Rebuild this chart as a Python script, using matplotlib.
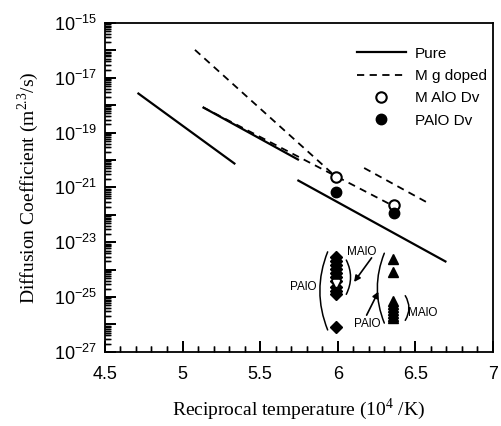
import matplotlib
matplotlib.use("Agg")
import matplotlib.pyplot as plt
import numpy as np
from matplotlib.ticker import FixedLocator, LogLocator, FuncFormatter, MultipleLocator
from matplotlib.lines import Line2D
from matplotlib.collections import LineCollection

plt.rcParams['mathtext.fontset'] = 'custom'
plt.rcParams['mathtext.sf'] = 'Liberation Sans'
plt.rcParams['mathtext.rm'] = 'Liberation Serif'
plt.rcParams['font.family'] = 'Liberation Sans'

# ---- data (x: 10^4/K, y: log10 D) ----
pure_1_x = [4.71, 5.34]
pure_1_y = [-17.55, -20.15]
pure_2_x = [5.13, 5.75]
pure_2_y = [-18.07, -20.00]
pure_3_x = [5.74, 6.70]
pure_3_y = [-20.73, -23.72]

mg_1_x = [5.08, 5.99]
mg_1_y = [-15.98, -20.62]
mg_2_x = [5.13, 6.37]
mg_2_y = [-18.07, -21.71]
mg_3_x = [6.17, 6.57]
mg_3_y = [-20.29, -21.53]

maio_dv_x = [5.99, 6.365]
maio_dv_y = [-20.62, -21.64]
paio_dv_x = [5.99, 6.365]
paio_dv_y = [-21.17, -21.93]

left_col_x = 5.99
left_filled_y = [-23.53, -23.68, -23.83, -23.97, -24.12, -24.26, -24.41, -24.63, -24.77, -24.88]
left_open_y = [-24.50]
left_single_y = [-26.09]

right_col_x = 6.355
right_tri_top_y = [-23.61, -24.08]
right_tri_blob_y = [-25.14, -25.25, -25.36, -25.47, -25.58, -25.69, -25.76]

xticks = [4.5, 5, 5.5, 6, 6.5, 7]
xtick_labels = ['4.5', '5', '5.5', '6', '6.5', '7']
ydecades = list(range(-27, -14))

fig = plt.figure(figsize=(5.02, 4.26), dpi=100)
ax = fig.add_axes([0.209, 0.174, 0.773, 0.772])
ax.set_yscale('log')
ax.set_xlim(4.5, 7)
ax.set_ylim(1e-27, 1e-15)

# axes styling
ax.xaxis.set_major_locator(FixedLocator(xticks))
ax.set_xticklabels(xtick_labels)
ax.xaxis.set_minor_locator(MultipleLocator(0.1))
ax.yaxis.set_major_locator(FixedLocator([10.0 ** e for e in ydecades]))
ax.yaxis.set_minor_locator(LogLocator(base=10, subs=np.arange(2, 10), numticks=100))

def yfmt(v, pos):
    e = int(round(np.log10(v)))
    if e % 2 != 0:
        return r'$\mathsf{10^{%d}}$' % e
    return ''
ax.yaxis.set_major_formatter(FuncFormatter(yfmt))
ax.yaxis.set_minor_formatter(FuncFormatter(lambda v, pos: ''))

ax.tick_params(axis='x', which='major', direction='in', length=8, width=1.3, pad=10,
               bottom=True, top=False, color='black', labelsize=13)
ax.tick_params(axis='x', which='minor', direction='in', length=4, width=1.0,
               bottom=True, top=False, color='black')
ax.tick_params(axis='y', which='major', direction='in', length=8, width=1.3, pad=6,
               left=True, right=False, color='black', labelsize=13)
ax.tick_params(axis='y', which='minor', direction='in', length=4, width=1.0,
               left=True, right=False, color='black')
for s in ax.spines.values():
    s.set_linewidth(1.3)

# explicit inward tick marks at the locator positions (same place as the axis ticks)
bbox = ax.get_position()
ax_w_px = bbox.width * fig.get_figwidth() * fig.dpi
ax_h_px = bbox.height * fig.get_figheight() * fig.dpi
maj_px, min_px = 8 * fig.dpi / 72, 4 * fig.dpi / 72
xmaj = [v for v in ax.xaxis.get_majorticklocs() if 4.5 <= v <= 7]
xmin = [v for v in ax.xaxis.get_minorticklocs() if 4.5 <= v <= 7]
ymaj = [v for v in ax.yaxis.get_majorticklocs() if 1e-27 <= v <= 1e-15]
ymin = [v for v in ax.yaxis.get_minorticklocs() if 1e-27 <= v <= 1e-15]
ax.add_collection(LineCollection([[(v, 0), (v, maj_px / ax_h_px)] for v in xmaj],
                                 colors='black', linewidths=1.3, transform=ax.get_xaxis_transform(), clip_on=False))
ax.add_collection(LineCollection([[(v, 0), (v, min_px / ax_h_px)] for v in xmin],
                                 colors='black', linewidths=1.0, transform=ax.get_xaxis_transform(), clip_on=False))
ax.add_collection(LineCollection([[(0, v), (maj_px / ax_w_px, v)] for v in ymaj],
                                 colors='black', linewidths=1.3, transform=ax.get_yaxis_transform(), clip_on=False))
ax.add_collection(LineCollection([[(0, v), (min_px / ax_w_px, v)] for v in ymin],
                                 colors='black', linewidths=1.0, transform=ax.get_yaxis_transform(), clip_on=False))

def L(v):
    return [10.0 ** e for e in v]

dash = (0, (4, 3))
for xs, ys in [(pure_1_x, pure_1_y), (pure_2_x, pure_2_y), (pure_3_x, pure_3_y)]:
    ax.plot(xs, L(ys), color='black', lw=1.6, solid_capstyle='butt')
for xs, ys in [(mg_1_x, mg_1_y), (mg_2_x, mg_2_y), (mg_3_x, mg_3_y)]:
    ax.plot(xs, L(ys), color='black', lw=1.3, ls=dash)

ax.plot(maio_dv_x, L(maio_dv_y), 'o', mfc='white', mec='black', mew=1.5, ms=7.5, zorder=5)
ax.plot(paio_dv_x, L(paio_dv_y), 'o', mfc='black', mec='black', ms=7.5, zorder=5)

ax.plot([left_col_x] * len(left_filled_y), L(left_filled_y), 'D', color='black', ms=6, zorder=5)
ax.plot([left_col_x] * len(left_open_y), L(left_open_y), 'v', mfc='white', mec='white', ms=4, zorder=6)
ax.plot([left_col_x] * len(left_single_y), L(left_single_y), 'D', color='black', ms=6, zorder=5)
ax.plot([right_col_x] * len(right_tri_top_y), L(right_tri_top_y), '^', color='black', ms=7, zorder=5)
ax.plot([right_col_x] * len(right_tri_blob_y), L(right_tri_blob_y), '^', color='black', ms=7, zorder=5)

def bracket(x, ytop, ybot, rad):
    ax.annotate('', xy=(x, 10 ** ybot), xytext=(x, 10 ** ytop),
                arrowprops=dict(arrowstyle='-', connectionstyle=f'arc3,rad={rad}',
                                lw=1.1, color='black', shrinkA=0, shrinkB=0))

bracket(5.935, -23.35, -26.20, 0.2)
bracket(6.055, -23.65, -24.90, -0.25)
bracket(6.30, -23.40, -25.95, 0.2)
bracket(6.435, -24.95, -25.85, -0.3)

fs_small = 8.5
ax.text(5.86, 10 ** -24.63, 'PAlO', fontsize=fs_small, ha='right', va='center')
ax.text(6.062, 10 ** -23.36, 'MAlO', fontsize=fs_small, ha='left', va='center')
ax.text(6.45, 10 ** -25.58, 'MAlO', fontsize=fs_small, ha='left', va='center')
ax.text(6.275, 10 ** -25.98, 'PAlO', fontsize=fs_small, ha='right', va='center')

ax.annotate('', xy=(6.105, 10 ** -24.45), xytext=(6.218, 10 ** -23.57),
            arrowprops=dict(arrowstyle='-|>', mutation_scale=9, lw=1.2, color='black',
                            shrinkA=0, shrinkB=0))
ax.annotate('', xy=(6.262, 10 ** -24.80), xytext=(6.186, 10 ** -25.66),
            arrowprops=dict(arrowstyle='-|>', mutation_scale=9, lw=1.2, color='black',
                            shrinkA=0, shrinkB=0))

ax.set_xlabel(r'Reciprocal temperature (10$^{4}$ /K)', fontsize=14, family='Liberation Serif', labelpad=10)
ax.set_ylabel(r'Diffusion Coefficient (m$^{2.3}$/s)', fontsize=14, family='Liberation Serif', labelpad=9)

handles = [
    Line2D([], [], color='black', lw=1.6),
    Line2D([], [], color='black', lw=1.3, ls=dash),
    Line2D([], [], marker='o', ls='', mfc='white', mec='black', mew=1.5, ms=7.5),
    Line2D([], [], marker='o', ls='', color='black', ms=7.5),
]
labels = ['Pure', 'M g doped', 'M AlO Dv', 'PAlO Dv']
ax.legend(handles, labels, loc='upper right', bbox_to_anchor=(1.02, 0.97), frameon=False,
          fontsize=11, handlelength=3.2, handletextpad=0.6, labelspacing=0.55)

fig.savefig('out.png', dpi=100)
